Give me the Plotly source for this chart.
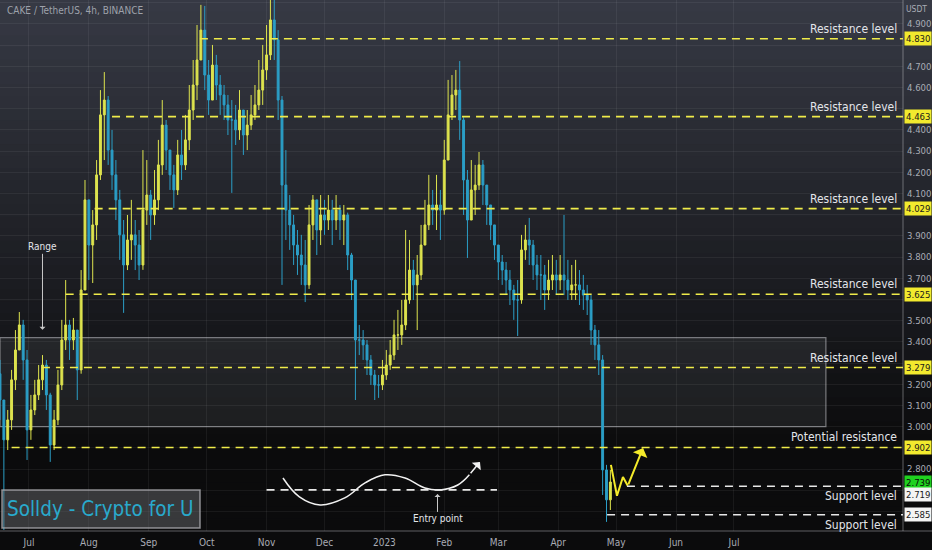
import plotly.graph_objects as go
import pandas as pd

# ---------------- data (2-day candles) ----------------
start_date = "2022-06-16"
closes = [3.126, 2.938, 3.032, 3.221, 3.362, 3.480, 3.315, 2.985, 3.079, 3.150,
          3.221, 3.291, 3.150, 2.914, 3.032, 3.197, 3.409, 3.480, 3.409, 3.456,
          3.268, 3.645, 4.070, 3.857, 3.952, 4.188, 4.471, 4.541, 4.305, 4.188,
          4.070, 3.905, 3.763, 3.881, 3.905, 3.857, 3.763, 4.022, 4.093, 3.999,
          4.070, 4.235, 4.423, 4.305, 4.188, 4.117, 4.282, 4.235, 4.353, 4.494,
          4.612, 4.730, 4.871, 4.659, 4.541, 4.706, 4.612, 4.565, 4.518, 4.447,
          4.447, 4.400, 4.494, 4.376, 4.423, 4.471, 4.518, 4.588, 4.683, 4.754,
          4.919, 4.825, 4.541, 4.140, 4.022, 3.952, 3.857, 3.810, 3.763, 3.669,
          3.952, 4.070, 3.928, 3.999, 3.975, 4.022, 3.975, 4.022, 3.975, 3.999,
          3.810, 3.692, 3.409, 3.409, 3.386, 3.315, 3.244, 3.197, 3.197, 3.244,
          3.291, 3.338, 3.433, 3.433, 3.480, 3.598, 3.739, 3.669, 3.716, 3.857,
          3.952, 4.046, 4.022, 4.046, 4.022, 4.258, 4.471, 4.565, 4.588, 4.447,
          4.164, 3.975, 4.117, 4.140, 4.235, 4.140, 4.046, 3.952, 3.857, 3.777,
          3.739, 3.692, 3.645, 3.598, 3.598, 3.834, 3.881, 3.857, 3.763, 3.716,
          3.716, 3.645, 3.692, 3.716, 3.692, 3.716, 3.692, 3.645, 3.669, 3.669,
          3.645, 3.621, 3.598, 3.456, 3.386, 3.315, 2.796, 2.655, 2.739]
highs = [3.315, 3.126, 3.079, 3.268, 3.456, 3.541, 3.504, 3.362, 3.150, 3.221,
         3.291, 3.338, 3.315, 3.160, 3.079, 3.268, 3.504, 3.692, 3.504, 3.513,
         3.456, 3.739, 4.164, 4.070, 4.022, 4.258, 4.588, 4.673, 4.560, 4.400,
         4.258, 4.117, 3.975, 3.999, 4.070, 3.975, 3.928, 4.305, 4.258, 4.117,
         4.211, 4.353, 4.541, 4.447, 4.305, 4.235, 4.353, 4.400, 4.471, 4.612,
         4.730, 4.895, 4.990, 4.985, 4.730, 4.801, 4.754, 4.659, 4.612, 4.565,
         4.541, 4.518, 4.588, 4.494, 4.494, 4.565, 4.612, 4.730, 4.801, 4.895,
         5.050, 5.050, 4.871, 4.560, 4.305, 4.093, 3.999, 3.928, 3.905, 3.881,
         4.046, 4.093, 4.070, 4.093, 4.070, 4.093, 4.070, 4.093, 4.046, 4.046,
         4.010, 3.820, 3.692, 3.480, 3.456, 3.409, 3.338, 3.268, 3.244, 3.315,
         3.362, 3.409, 3.504, 3.551, 3.598, 3.928, 3.881, 3.787, 3.810, 3.952,
         4.070, 4.188, 4.117, 4.188, 4.117, 4.353, 4.636, 4.659, 4.683, 4.725,
         4.460, 4.211, 4.258, 4.235, 4.296, 4.258, 4.140, 4.046, 3.952, 3.857,
         3.810, 3.777, 3.739, 3.669, 3.692, 3.905, 3.952, 3.985, 3.881, 3.810,
         3.810, 3.763, 3.787, 3.810, 3.787, 3.810, 3.999, 3.787, 3.763, 3.787,
         3.739, 3.716, 3.669, 3.621, 3.480, 3.456, 3.338, 2.820, 2.796]
lows = [3.032, 2.513, 2.890, 2.985, 3.173, 3.362, 3.221, 2.843, 2.938, 3.055,
        3.126, 3.173, 3.079, 2.834, 2.890, 3.008, 3.173, 3.362, 3.315, 3.362,
        3.126, 3.250, 3.645, 3.692, 3.678, 3.881, 4.164, 4.258, 4.235, 4.117,
        3.975, 3.787, 3.537, 3.739, 3.787, 3.739, 3.692, 3.740, 3.952, 3.881,
        3.952, 4.022, 4.188, 4.211, 4.117, 4.032, 4.093, 4.164, 4.211, 4.305,
        4.447, 4.541, 4.730, 4.588, 4.471, 4.541, 4.541, 4.471, 4.447, 4.376,
        4.103, 4.329, 4.353, 4.282, 4.305, 4.400, 4.447, 4.494, 4.518, 4.636,
        4.730, 4.730, 4.447, 3.669, 3.881, 3.834, 3.763, 3.716, 3.669, 3.588,
        3.650, 3.881, 3.810, 3.857, 3.905, 3.928, 3.857, 3.928, 3.881, 3.857,
        3.739, 3.598, 3.126, 3.338, 3.315, 3.244, 3.197, 3.126, 3.136, 3.173,
        3.221, 3.268, 3.315, 3.362, 3.386, 3.456, 3.580, 3.598, 3.456, 3.692,
        3.857, 3.928, 3.952, 3.928, 3.881, 4.000, 4.258, 4.447, 4.494, 4.353,
        3.999, 3.796, 3.975, 3.999, 4.117, 4.046, 3.952, 3.881, 3.787, 3.692,
        3.669, 3.621, 3.574, 3.504, 3.428, 3.580, 3.787, 3.763, 3.692, 3.645,
        3.598, 3.551, 3.598, 3.645, 3.621, 3.645, 3.621, 3.598, 3.598, 3.598,
        3.574, 3.551, 3.527, 3.386, 3.315, 3.244, 2.678, 2.551, 2.607]
first_open = 3.25

resistance_levels = [4.830, 4.463, 4.029, 3.625, 3.279]
resistance_starts = ["2022-09-27 12:00", "2022-08-13", "2022-08-04", "2022-07-20", "2022-07-07 17:00"]
potential_level = 2.902
potential_start = "2022-06-22"
support_levels = [2.719, 2.585]
support_starts = ["2023-05-06 14:00", "2023-04-26 07:00"]
support_tag_shift = [-8, 0]
last_price = 2.739

month_ticks = ["2022-07-01", "2022-08-01", "2022-09-01", "2022-10-01", "2022-11-01", "2022-12-01",
               "2023-01-01", "2023-02-01", "2023-03-01", "2023-04-01", "2023-05-01", "2023-06-01", "2023-07-01"]
month_labels = ["Jul", "Aug", "Sep", "Oct", "Nov", "Dec", "2023", "Feb", "Mar", "Apr", "May", "Jun", "Jul"]
# price labels not hidden behind the level tags
price_labels = [2.8, 3.0, 3.1, 3.2, 3.4, 3.5, 3.7, 3.8, 3.9, 4.1, 4.2, 4.3, 4.4, 4.6, 4.7, 4.9]

# drawing annotations (data coordinates)
wave_x = ["2022-11-09 12:00", "2022-11-18", "2022-11-28 17:00", "2022-12-11 12:00", "2022-12-22",
          "2023-01-01 07:00", "2023-01-11 17:00", "2023-01-22", "2023-01-29 19:00", "2023-02-08",
          "2023-02-14", "2023-02-19 12:00"]
wave_y = [2.758, 2.669, 2.631, 2.664, 2.735, 2.773, 2.758, 2.711, 2.702, 2.725, 2.773, 2.834]
zig_x = ["2023-04-28 07:00", "2023-05-01 10:00", "2023-05-04 12:00", "2023-05-07", "2023-05-14 22:00"]
zig_y = [2.820, 2.674, 2.763, 2.721, 2.900]

X_START = "2022-06-16"
X_END = "2023-09-26 12:00"
Y_MIN, Y_MAX = 2.508, 5.013

# ---------------- styling ----------------
INC = "#dde34e"
DEC = "#2b9ec6"
YEL = "#f0ec4a"
TXT = "#e3e5ea"
AX = "#a9acb5"
COND = "DejaVu Sans Condensed, Liberation Sans Narrow, Roboto, sans-serif"

W, H = 932, 550
ML, MR, MT, MB = 0, 29, 0, 19
PW, PH = W - ML - MR, H - MT - MB

dates = pd.date_range(start_date, periods=len(closes), freq="2D")
opens = [first_open] + closes[:-1]

fig = go.Figure()
fig.add_trace(go.Candlestick(
    x=dates, open=opens, high=highs, low=lows, close=closes,
    increasing=dict(line=dict(color=INC, width=1), fillcolor=INC),
    decreasing=dict(line=dict(color=DEC, width=1), fillcolor=DEC),
    whiskerwidth=0, hoverinfo="skip", showlegend=False))

# wave drawing
fig.add_trace(go.Scatter(x=wave_x[:-1], y=wave_y[:-1], mode="lines",
                         line=dict(color="#f2f2f2", width=1.5, shape="spline", smoothing=1.1),
                         hoverinfo="skip", showlegend=False))
# zigzag drawing
fig.add_trace(go.Scatter(x=zig_x[:-1], y=zig_y[:-1], mode="lines",
                         line=dict(color="#f4ea2a", width=2),
                         hoverinfo="skip", showlegend=False))

shapes = []
# gradient background
N = 44
for k in range(N):
    t0 = k / N
    t1 = (k + 1) / N
    tm = (t0 + t1) / 2
    f = min(1.0, tm / 0.85)
    top = (55, 58, 69)
    bot = (11, 11, 12)
    c = tuple(int(top[j] + (bot[j] - top[j]) * f) for j in range(3))
    shapes.append(dict(type="rect", xref="paper", yref="paper", x0=-0.01, x1=1.04,
                       y0=1 - t1 - 0.001, y1=1 - t0 + 0.001, line=dict(width=0),
                       fillcolor="rgb(%d,%d,%d)" % c, layer="below"))

# range box
shapes.append(dict(type="rect", xref="x", yref="y", x0=X_START, x1="2023-08-17 14:00",
                   y0=3.0, y1=3.42, fillcolor="rgba(140,143,155,0.13)",
                   line=dict(color="rgba(200,200,205,0.55)", width=1.2), layer="below"))

for lv, st in zip(resistance_levels, resistance_starts):
    shapes.append(dict(type="line", xref="x", yref="y", x0=st, x1=X_END, y0=lv, y1=lv,
                       line=dict(color=YEL, width=1.6, dash="8px,6px")))
shapes.append(dict(type="line", xref="x", yref="y", x0=potential_start, x1=X_END,
                   y0=potential_level, y1=potential_level,
                   line=dict(color=YEL, width=1.6, dash="8px,6px")))
for lv, st in zip(support_levels, support_starts):
    shapes.append(dict(type="line", xref="x", yref="y", x0=st, x1=X_END, y0=lv, y1=lv,
                       line=dict(color="#e8e8e8", width=1.6, dash="8px,6px")))
# entry dashed line
shapes.append(dict(type="line", xref="x", yref="y", x0="2022-11-01", x1="2023-02-28 07:00",
                   y0=2.702, y1=2.702, line=dict(color="#e8e8e8", width=1.6, dash="8px,6px")))
# axis lines
shapes.append(dict(type="line", xref="paper", yref="paper", x0=1, x1=1, y0=0, y1=1,
                   line=dict(color="rgba(200,200,205,0.45)", width=1)))
shapes.append(dict(type="line", xref="paper", yref="paper", x0=0, x1=1.04, y0=0, y1=0,
                   line=dict(color="rgba(200,200,205,0.45)", width=1)))
# watermark box
shapes.append(dict(type="rect", xref="paper", yref="paper", x0=2 / PW, x1=200 / PW,
                   y0=(PH - 528) / PH, y1=(PH - 490) / PH,
                   fillcolor="rgba(110,112,118,0.45)", line=dict(color="rgba(170,170,175,0.8)", width=1.5)))

ann = []
def px(x):
    return x / PW
def py(y):
    return (PH - y) / PH

ann.append(dict(xref="paper", yref="paper", x=px(5), y=py(11), text="CAKE / TetherUS, 4h, BINANCE",
                showarrow=False, xanchor="left", yanchor="middle",
                font=dict(size=10, color="#9ea2ab", family=COND)))
ann.append(dict(xref="paper", yref="paper", x=px(916), y=py(9), text="USDT", showarrow=False,
                xanchor="center", yanchor="middle", font=dict(size=8.5, color=AX, family=COND)))

for lv in resistance_levels:
    ann.append(dict(xref="paper", yref="y", x=px(899), y=lv, yshift=10, text="Resistance level",
                    showarrow=False, xanchor="right", yanchor="middle",
                    font=dict(size=12, color=TXT, family=COND)))
ann.append(dict(xref="paper", yref="y", x=px(899), y=potential_level, yshift=10,
                text="Potential resistance", showarrow=False, xanchor="right", yanchor="middle",
                font=dict(size=12, color=TXT, family=COND)))
for lv in support_levels:
    ann.append(dict(xref="paper", yref="y", x=px(899), y=lv, yshift=-10, text="Support level",
                    showarrow=False, xanchor="right", yanchor="middle",
                    font=dict(size=12, color=TXT, family=COND)))

# price tags
def tag(v, bg, fg, shift=0):
    return dict(xref="paper", yref="y", x=1, xshift=1, y=v, yshift=shift, text="%.3f" % v,
                showarrow=False, xanchor="left", yanchor="middle", bgcolor=bg, borderpad=1,
                font=dict(size=9.5, color=fg, family=COND))
for lv in resistance_levels:
    ann.append(tag(lv, "#f2ea2e", "#1a1a1a"))
ann.append(tag(potential_level, "#f2ea2e", "#1a1a1a"))
ann.append(tag(last_price, "#1fd21f", "#0a0a0a"))
for lv, sh in zip(support_levels, support_tag_shift):
    ann.append(tag(lv, "#f4f4f4", "#1a1a1a", sh))

# Range label with arrow
ann.append(dict(xref="x", yref="y", x="2022-07-08", y=3.457, ax=0, ay=-83, text="Range",
                showarrow=True, arrowhead=1, arrowsize=1, arrowwidth=1, arrowcolor="#c8c8c8",
                font=dict(size=10, color=TXT, family=COND)))
# Entry point
ann.append(dict(xref="x", yref="y", x="2023-01-28 12:00", y=2.683, ax=0, ay=25, text="Entry point",
                showarrow=True, arrowhead=1, arrowsize=1, arrowwidth=1, arrowcolor="#c8c8c8",
                font=dict(size=10, color=TXT, family=COND)))
# wave arrow head
ann.append(dict(xref="x", yref="y", axref="x", ayref="y", x=wave_x[-1], y=wave_y[-1],
                ax=wave_x[-2], ay=wave_y[-2], text="", showarrow=True, arrowhead=1,
                arrowsize=1.3, arrowwidth=1.5, arrowcolor="#f2f2f2"))
# zigzag arrow head
ann.append(dict(xref="x", yref="y", axref="x", ayref="y", x=zig_x[-1], y=zig_y[-1],
                ax=zig_x[-2], ay=zig_y[-2], text="", showarrow=True, arrowhead=1,
                arrowsize=1.3, arrowwidth=2, arrowcolor="#f4ea2a"))
# watermark text
ann.append(dict(xref="paper", yref="paper", x=px(100), y=py(509), text="Solldy - Crypto for U",
                showarrow=False, xanchor="center", yanchor="middle",
                font=dict(size=20.5, color="#29a9cc", family=COND)))

fig.update_layout(
    width=W, height=H, margin=dict(l=ML, r=MR, t=MT, b=MB, autoexpand=False),
    paper_bgcolor="#0b0b0c", plot_bgcolor="rgba(0,0,0,0)",
    shapes=shapes, annotations=ann, showlegend=False,
    xaxis=dict(type="date", range=[X_START, X_END], rangeslider=dict(visible=False),
               tickvals=month_ticks, ticktext=month_labels, showgrid=True, automargin=False,
               gridcolor="rgba(255,255,255,0.06)", zeroline=False, showline=False,
               tickfont=dict(size=10, color=AX, family=COND), ticks="", ticklabelstandoff=4,
               fixedrange=True),
    yaxis=dict(side="right", range=[Y_MIN, Y_MAX], tickvals=price_labels, tickformat=".3f",
               showgrid=False, zeroline=False, showline=False, automargin=False,
               minor=dict(tick0=2.6, dtick=0.1, showgrid=True, gridcolor="rgba(255,255,255,0.06)", ticks=""),
               tickfont=dict(size=9.5, color=AX, family=COND), ticks="", ticklabelstandoff=3),
)

fig.write_html("out.html", config={"displayModeBar": False, "staticPlot": True},
               post_script="document.body.style.margin='0px';document.body.style.overflow='hidden';")
